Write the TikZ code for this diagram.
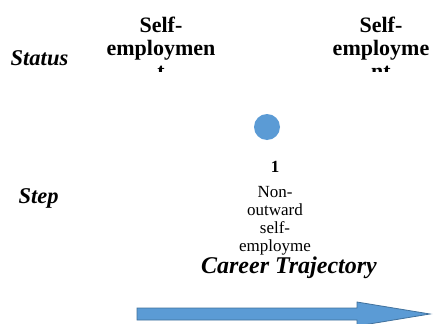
\documentclass[tikz,border=0pt]{standalone}
\usepackage{fontspec}
\setmainfont{Liberation Serif}
\definecolor{accent}{HTML}{5B9BD5}
\definecolor{accentline}{HTML}{41719C}
\tikzset{
  rowlabel/.style={font=\fontsize{22.5}{24}\selectfont\bfseries\itshape, inner sep=0pt, anchor=base},
  header/.style={font=\fontsize{22}{23}\selectfont\bfseries, align=center, inner sep=0pt, anchor=north},
  stepnum/.style={font=\fontsize{17}{18}\selectfont\bfseries, inner sep=0pt, anchor=base},
  stepdesc/.style={font=\fontsize{17}{18}\selectfont, align=center, inner sep=0pt, anchor=north},
  dot/.style={circle, fill=accent, minimum size=26pt, inner sep=0pt},
  axislabel/.style={font=\fontsize{24}{26}\selectfont\bfseries\itshape, inner sep=0pt, anchor=base},
  bigarrow/.style={fill=accent, draw=accentline, line width=0.8pt, line join=miter}
}
\begin{document}
\begin{tikzpicture}[x=1pt, y=-1pt]
\useasboundingbox (0,0) rectangle (437,324);
\node[rowlabel] (status) at (39.5,65) {Status};
\node[rowlabel] (step) at (38.5,203) {Step};
\begin{scope}
  \clip (0,0) rectangle (437,71);
  \node[header] (h1) at (161,17) {Self-\\employmen\\t};
  \node[header] (h2) at (381,17) {Self-\\employme\\nt};
\end{scope}
\node[dot] (d1) at (267,127) {};
\node[stepnum] (n1) at (275,172) {1};
\node[stepdesc] (s1) at (275,185.7) {Non-\\outward\\self-\\employme};
\node[axislabel] (career) at (289,273) {Career Trajectory};
\draw[bigarrow] (137,308) -- (357,308) -- (357,302) -- (430,314) -- (357,326) -- (357,320) -- (137,320) -- cycle;
\end{tikzpicture}
\end{document}
